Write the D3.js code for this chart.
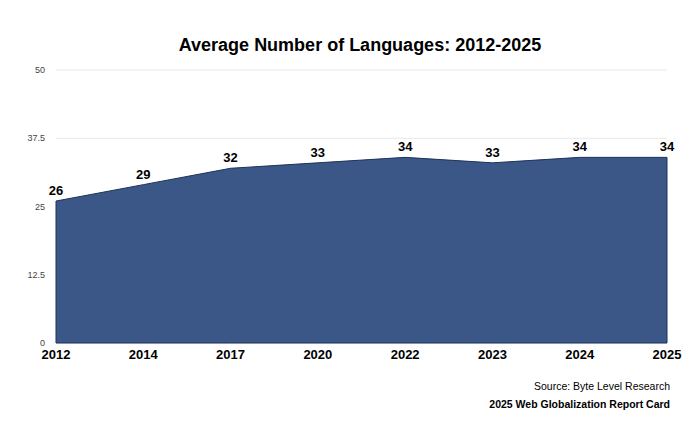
<!DOCTYPE html>
<html>
<head>
<meta charset="utf-8">
<script src="https://cdn.jsdelivr.net/npm/d3@7"></script>
<style>
  body { margin: 0; background: #fff; }
  text { font-family: "Liberation Sans", Arial, sans-serif; }
</style>
</head>
<body>
<svg id="chart" width="700" height="436"></svg>
<script>
// Chart data
var years = ["2012", "2014", "2017", "2020", "2022", "2023", "2024", "2025"];
var languages = [26, 29, 32, 33, 34, 33, 34, 34];
var yTicks = [0, 12.5, 25, 37.5, 50];

var svg = d3.select("#chart");
// plot box (avoid the name "top", it clashes with window.top)
var plotLeft = 56, plotRight = 667, plotTop = 70, plotBottom = 343;

var x = d3.scalePoint().domain(years).range([plotLeft, plotRight]);
var y = d3.scaleLinear().domain([0, 50]).range([plotBottom, plotTop]);

// Gridlines and y labels
svg.selectAll(".grid").data(yTicks).enter().append("line")
  .attr("x1", plotLeft).attr("x2", plotRight)
  .attr("y1", d => y(d)).attr("y2", d => y(d))
  .attr("stroke", "#e8e8e8");
svg.selectAll(".ylab").data(yTicks).enter().append("text")
  .attr("x", 45).attr("y", d => y(d) + 3)
  .attr("text-anchor", "end").attr("font-size", 9).attr("fill", "#444")
  .text(d => d);

// Area
var pts = years.map((d, i) => ({ year: d, v: languages[i] }));
var area = d3.area().x(d => x(d.year)).y0(y(0)).y1(d => y(d.v));
svg.append("path").datum(pts)
  .attr("d", area)
  .attr("fill", "#3a5787")
  .attr("stroke", "#1f3358").attr("stroke-width", 1);

// Value labels
svg.selectAll(".vlab").data(pts).enter().append("text")
  .attr("x", d => x(d.year)).attr("y", d => y(d.v) - 6)
  .attr("text-anchor", "middle").attr("font-size", 13).attr("font-weight", "bold")
  .text(d => d.v);

// X labels
svg.selectAll(".xlab").data(years).enter().append("text")
  .attr("x", d => x(d)).attr("y", 359)
  .attr("text-anchor", "middle").attr("font-size", 13).attr("font-weight", "bold")
  .text(d => d);

// Title and source
svg.append("text").attr("x", 360).attr("y", 51)
  .attr("text-anchor", "middle").attr("font-size", 18).attr("font-weight", "bold")
  .text("Average Number of Languages: 2012-2025");
svg.append("text").attr("x", 670).attr("y", 390)
  .attr("text-anchor", "end").attr("font-size", 10.5)
  .text("Source: Byte Level Research");
svg.append("text").attr("x", 670).attr("y", 408)
  .attr("text-anchor", "end").attr("font-size", 10.5).attr("font-weight", "bold")
  .text("2025 Web Globalization Report Card");
</script>
</body>
</html>
